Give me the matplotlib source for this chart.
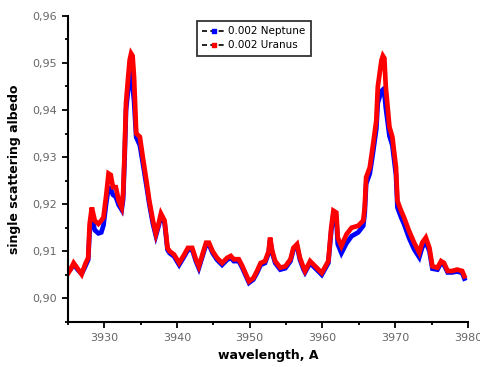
import numpy as np
import matplotlib
matplotlib.use("Agg")
import matplotlib.pyplot as plt
from matplotlib.lines import Line2D
from matplotlib.ticker import MultipleLocator, FuncFormatter

# wavelength grid, Angstrom
wave = [3925.0, 3925.4, 3925.8, 3926.4, 3926.9, 3927.4, 3927.8, 3928.0, 3928.3, 3928.7,
        3929.2, 3929.6, 3929.9, 3930.3, 3930.6, 3930.9, 3931.2, 3931.6, 3932.0, 3932.4,
        3932.6, 3932.8, 3933.0, 3933.3, 3933.5, 3933.7, 3933.9, 3934.1, 3934.4, 3934.9,
        3935.3, 3935.8, 3936.2, 3936.7, 3937.1, 3937.5, 3937.8, 3938.3, 3938.7, 3939.0,
        3939.6, 3940.3, 3941.0, 3941.5, 3942.1, 3942.6, 3943.0, 3943.5, 3944.0, 3944.4,
        3944.9, 3945.5, 3946.2, 3946.9, 3947.4, 3947.8, 3948.5, 3949.0, 3949.4, 3949.9,
        3950.5, 3951.0, 3951.5, 3952.1, 3952.6, 3952.8, 3953.1, 3953.5, 3954.2, 3954.9,
        3955.6, 3956.0, 3956.5, 3956.9, 3957.4, 3957.6, 3958.3, 3959.0, 3959.9, 3960.8,
        3961.2, 3961.5, 3961.9, 3962.1, 3962.6, 3963.3, 3964.0, 3964.9, 3965.6, 3965.8,
        3966.0, 3966.5, 3966.9, 3967.4, 3967.6, 3968.1, 3968.3, 3968.5, 3968.7, 3969.2,
        3969.6, 3970.1, 3970.3, 3970.8, 3971.2, 3971.9, 3972.6, 3973.3, 3973.7, 3974.2,
        3974.7, 3975.1, 3975.8, 3976.3, 3976.7, 3977.2, 3977.8, 3978.5, 3979.2, 3979.5]

uranus = [0.9052, 0.9062, 0.9075, 0.9062, 0.9051, 0.9073, 0.9086, 0.9158, 0.9193, 0.9165,
          0.9158, 0.9165, 0.9172, 0.9222, 0.9265, 0.9262, 0.9236, 0.9236, 0.9207, 0.9193,
          0.9222, 0.9308, 0.9415, 0.9471, 0.9506, 0.9520, 0.9515, 0.9470, 0.9350, 0.9343,
          0.9300, 0.9250, 0.9207, 0.9165, 0.9137, 0.9160, 0.9180, 0.9165, 0.9107, 0.9100,
          0.9093, 0.9075, 0.9093, 0.9107, 0.9107, 0.9083, 0.9068, 0.9093, 0.9118, 0.9118,
          0.9100, 0.9086, 0.9075, 0.9086, 0.9090, 0.9083, 0.9083, 0.9068, 0.9054, 0.9036,
          0.9043, 0.9058, 0.9075, 0.9079, 0.9100, 0.9129, 0.9100, 0.9079, 0.9065, 0.9068,
          0.9083, 0.9107, 0.9115, 0.9086, 0.9065, 0.9058, 0.9079, 0.9068, 0.9054, 0.9079,
          0.9150, 0.9186, 0.9182, 0.9129, 0.9111, 0.9136, 0.9150, 0.9154, 0.9165, 0.9193,
          0.9257, 0.9278, 0.9321, 0.9378, 0.9449, 0.9505, 0.9515, 0.9510, 0.9449, 0.9364,
          0.9343, 0.9278, 0.9207, 0.9186, 0.9172, 0.9143, 0.9118, 0.9097, 0.9118, 0.9129,
          0.9107, 0.9068, 0.9065, 0.9079, 0.9075, 0.9058, 0.9058, 0.9061, 0.9058, 0.9047]

neptune = [0.9056, 0.9062, 0.9072, 0.9060, 0.9052, 0.9068, 0.9082, 0.9145, 0.9172, 0.9145,
           0.9138, 0.9140, 0.9155, 0.9205, 0.9235, 0.9232, 0.9220, 0.9215, 0.9198, 0.9188,
           0.9210, 0.9295, 0.9400, 0.9445, 0.9465, 0.9472, 0.9450, 0.9420, 0.9342, 0.9325,
           0.9288, 0.9240, 0.9200, 0.9158, 0.9133, 0.9155, 0.9175, 0.9160, 0.9103, 0.9096,
           0.9089, 0.9071, 0.9089, 0.9103, 0.9103, 0.9079, 0.9064, 0.9089, 0.9114, 0.9114,
           0.9096, 0.9082, 0.9071, 0.9082, 0.9086, 0.9079, 0.9079, 0.9064, 0.9050, 0.9033,
           0.9040, 0.9054, 0.9071, 0.9075, 0.9096, 0.9124, 0.9096, 0.9075, 0.9061, 0.9064,
           0.9079, 0.9103, 0.9111, 0.9082, 0.9061, 0.9055, 0.9075, 0.9064, 0.9050, 0.9075,
           0.9143, 0.9176, 0.9170, 0.9115, 0.9096, 0.9117, 0.9132, 0.9140, 0.9154, 0.9180,
           0.9243, 0.9265, 0.9305, 0.9360, 0.9415, 0.9440, 0.9443, 0.9437, 0.9405, 0.9345,
           0.9325, 0.9262, 0.9193, 0.9172, 0.9158, 0.9128, 0.9104, 0.9087, 0.9108, 0.9120,
           0.9100, 0.9063, 0.9061, 0.9075, 0.9071, 0.9055, 0.9055, 0.9057, 0.9054, 0.9042]

labels = ["0.002 Neptune", "0.002 Uranus"]
colors = ["#0000ff", "#ff0000"]

fig = plt.figure(figsize=(4.81, 3.67), dpi=100)
ax = fig.add_axes([0.141, 0.123, 0.832, 0.834])

ax.plot(wave, neptune, color=colors[0], lw=3.4, solid_joinstyle="miter")
ax.plot(wave, uranus, color=colors[1], lw=3.4, solid_joinstyle="miter")

ax.set_xlim(3925, 3980)
ax.set_ylim(0.895, 0.96)
ax.xaxis.set_major_locator(MultipleLocator(10))
ax.xaxis.set_minor_locator(MultipleLocator(5))
ax.yaxis.set_major_locator(MultipleLocator(0.01))
ax.yaxis.set_minor_locator(MultipleLocator(0.005))
ax.yaxis.set_major_formatter(FuncFormatter(lambda v, p: ("%.2f" % v).replace(".", ",")))

for s in ["top", "right"]:
    ax.spines[s].set_visible(False)
for s in ["left", "bottom"]:
    ax.spines[s].set_linewidth(1.5)

ax.tick_params(which="major", direction="out", length=4, width=1.3,
               labelsize=8, labelcolor="#666666", pad=4)
ax.tick_params(which="minor", direction="out", length=2.5, width=1.3)

ax.set_xlabel("wavelength, A", fontsize=9, fontweight="bold", labelpad=4)
ax.set_ylabel("single scattering albedo", fontsize=9, fontweight="bold", labelpad=8)

handles = [Line2D([0], [0], color="black", lw=1.2, ls=(0, (3, 2)), marker="s",
                  markersize=3.5, markerfacecolor=c, markeredgecolor=c) for c in colors]
leg = ax.legend(handles, labels, loc="upper left", bbox_to_anchor=(0.31, 1.0),
                fontsize=7.5, frameon=True, fancybox=False, edgecolor="black",
                handlelength=2.2, handletextpad=0.3, borderpad=0.5, labelspacing=0.4)
leg.get_frame().set_linewidth(1.3)

fig.savefig("out.png", dpi=100)
